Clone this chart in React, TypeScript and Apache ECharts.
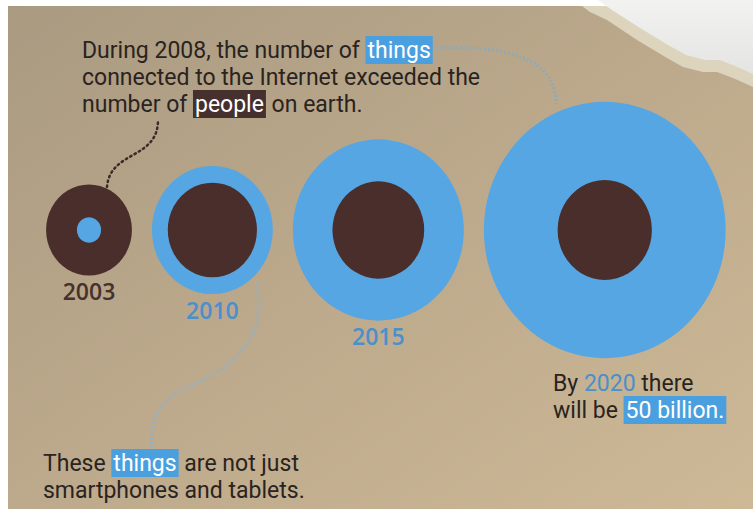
import React, { useEffect, useRef } from "react";
import * as echarts from "echarts";

// ---- data (billions) ----
const years = ["2003", "2010", "2015", "2020"];
const thingsBillions = [0.5, 12.5, 25, 50];
const peopleBillions = [6.3, 6.8, 7.2, 7.6];
const showYearLabel = [true, true, true, false];

const BLUE = "#56a6e3";
const BROWN = "#4a2e2b";
const TEXT = "#2a2320";
const BLUE_TEXT = "#4b8fcb";
const FONT = "Roboto, 'Open Sans', sans-serif";

export default function App() {
  const ref = useRef<HTMLDivElement>(null);
  useEffect(() => {
    if (!ref.current) return;
    const chart = echarts.init(ref.current, undefined, { renderer: "svg" });

    // area-proportional sizing
    const K = 34.2;
    const STRETCH = 1.06;
    const GAP = 20;
    const CY = 230;
    const diam = (v: number) => K * Math.sqrt(v);
    const outerVal = years.map((_, i) => Math.max(thingsBillions[i], peopleBillions[i]));
    const innerVal = years.map((_, i) => Math.min(thingsBillions[i], peopleBillions[i]));
    const xs: number[] = [];
    years.forEach((_, i) => {
      if (i === 0) xs.push(89);
      else xs.push(xs[i - 1] + diam(outerVal[i - 1]) / 2 + GAP + diam(outerVal[i]) / 2);
    });
    const colorOf = (i: number, outer: boolean) => {
      const thingsBigger = thingsBillions[i] > peopleBillions[i];
      return outer === thingsBigger ? BLUE : BROWN;
    };

    const outerData = years.map((y, i) => ({
      name: y,
      value: [xs[i], CY],
      symbolSize: [diam(outerVal[i]), diam(outerVal[i]) * STRETCH],
      itemStyle: { color: colorOf(i, true), opacity: 1 },
      label: {
        show: showYearLabel[i],
        color: thingsBillions[i] > peopleBillions[i] ? BLUE_TEXT : "#45312d",
      },
    }));
    const innerData = years.map((y, i) => ({
      name: y,
      value: [xs[i], CY],
      symbolSize: [diam(innerVal[i]), diam(innerVal[i]) * STRETCH],
      itemStyle: { color: colorOf(i, false), opacity: 1 },
    }));

    const FS = 23;
    const textLine = (x: number, y: number, text: string) => ({
      type: "text",
      x,
      y,
      z: 20,
      style: {
        text,
        fontSize: FS,
        fontFamily: FONT,
        fill: TEXT,
        verticalAlign: "middle",
        rich: {
          b: { backgroundColor: "#4a9fdf", fill: "#ffffff", color: "#ffffff", padding: [3, 2, 2, 2], fontSize: FS, fontFamily: FONT },
          d: { backgroundColor: "#45302e", fill: "#ffffff", color: "#ffffff", padding: [3, 2, 2, 2], fontSize: FS, fontFamily: FONT },
          y: { fill: BLUE_TEXT, color: BLUE_TEXT, fontSize: FS, fontFamily: FONT },
        },
      },
    });

    const option: any = {
      animation: false,
      backgroundColor: "#ffffff",
      grid: { left: 0, right: 0, top: 0, bottom: 0 },
      xAxis: { type: "value", min: 0, max: 753, show: false },
      yAxis: { type: "value", min: 0, max: 509, inverse: true, show: false },
      graphic: [
        {
          type: "rect",
          z: -10,
          shape: { x: 8, y: 6, width: 745, height: 503 },
          style: {
            fill: {
              type: "linear", x: 0, y: 0, x2: 1, y2: 1,
              colorStops: [
                { offset: 0, color: "#a99a81" },
                { offset: 0.45, color: "#bba88b" },
                { offset: 1, color: "#cdb996" },
              ],
            },
          },
        },
        {
          type: "polygon",
          z: -9,
          shape: { points: [[582, 6], [590, 12], [607, 20], [637, 40], [667, 58], [683, 67], [703, 72], [717, 72], [733, 78], [753, 87], [753, 6]] },
          style: { fill: "#ddd4bd" },
        },
        {
          type: "polygon",
          z: -8,
          shape: { points: [[598, 0], [612, 10], [640, 28], [668, 45], [686, 55], [705, 60], [720, 60], [735, 66], [753, 74], [753, 0]] },
          style: {
            fill: {
              type: "linear", x: 0, y: 0, x2: 0, y2: 1,
              colorStops: [
                { offset: 0, color: "#f2f2f1" },
                { offset: 1, color: "#e4e4e2" },
              ],
            },
          },
        },
        // dotted connectors
        {
          type: "bezierCurve",
          z: 5,
          shape: { x1: 107, y1: 187, cpx1: 110, cpy1: 150, cpx2: 158, cpy2: 160, x2: 158, y2: 120 },
          style: { stroke: "#3c2c28", lineWidth: 2.5, lineDash: [1.5, 3.5], lineCap: "round", fill: null },
        },
        {
          type: "bezierCurve",
          z: 5,
          shape: { x1: 436, y1: 48, cpx1: 530, cpy1: 44, cpx2: 556, cpy2: 70, x2: 556, y2: 104 },
          style: { stroke: "#86aac0", lineWidth: 3, lineDash: [2, 2], fill: null, opacity: 0.85 },
        },
        {
          type: "bezierCurve",
          z: 5,
          shape: { x1: 257, y1: 283, cpx1: 268, cpy1: 335, cpx2: 235, cpy2: 368, x2: 190, y2: 386 },
          style: { stroke: "#8fb2c6", lineWidth: 3, lineDash: [2, 2], fill: null, opacity: 0.85 },
        },
        {
          type: "bezierCurve",
          z: 5,
          shape: { x1: 190, y1: 386, cpx1: 158, cpy1: 400, cpx2: 150, cpy2: 420, x2: 152, y2: 449 },
          style: { stroke: "#8fb2c6", lineWidth: 3, lineDash: [2, 2], fill: null, opacity: 0.85 },
        },
        textLine(82, 50, "During 2008, the number of {b|things}"),
        textLine(82, 77, "connected to the Internet exceeded the"),
        textLine(82, 104, "number of {d|people} on earth."),
        textLine(43, 463, "These {b|things} are not just"),
        textLine(43, 490, "smartphones and tablets."),
        textLine(553, 383, "By {y|2020} there"),
        textLine(553, 410, "will be {b|50 billion.}"),
      ],
      series: [
        {
          type: "scatter",
          z: 2,
          symbol: "circle",
          data: outerData,
          label: {
            position: "bottom",
            distance: 4,
            formatter: "{b}",
            fontSize: 23,
            fontWeight: 600,
            fontFamily: "'Open Sans', sans-serif",
          },
          emphasis: { disabled: true },
        },
        {
          type: "scatter",
          z: 3,
          symbol: "circle",
          data: innerData,
          emphasis: { disabled: true },
        },
      ],
    };
    chart.setOption(option);
    return () => chart.dispose();
  }, []);
  return (
    <div
      ref={ref}
      style={{ position: "absolute", left: 0, top: 0, width: 753, height: 509 }}
    />
  );
}
